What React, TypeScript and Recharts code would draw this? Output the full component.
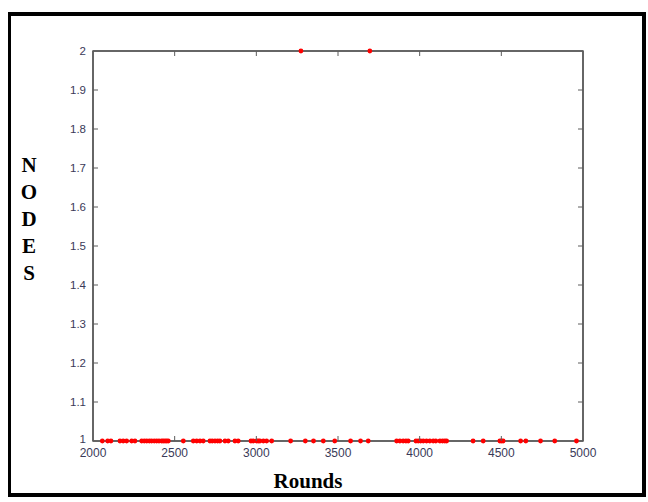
import { ScatterChart, Scatter, XAxis, YAxis, ReferenceArea } from "recharts";

// Rounds at which the node count was 1 / 2
const ROUNDS_ONE = [
  2057, 2090, 2110, 2165, 2185, 2206, 2237, 2257, 2298, 2314, 2329, 2345, 2359,
  2375, 2390, 2404, 2420, 2430, 2441, 2451, 2461, 2553, 2614, 2635, 2655, 2675,
  2716, 2730, 2747, 2763, 2777, 2808, 2828, 2869, 2889, 2967, 2981, 3002, 3012,
  3022, 3043, 3063, 3094, 3210, 3300, 3350, 3410, 3480, 3577, 3638, 3685, 3859,
  3879, 3899, 3916, 3930, 3977, 3991, 4006, 4022, 4042, 4062, 4083, 4099, 4124,
  4140, 4154, 4165, 4327, 4389, 4491, 4501, 4511, 4618, 4650, 4740, 4827, 4960,
];
const ROUNDS_TWO = [3273, 3695];

const X_TICKS = [2000, 2500, 3000, 3500, 4000, 4500, 5000];
const Y_TICKS = [1, 1.1, 1.2, 1.3, 1.4, 1.5, 1.6, 1.7, 1.8, 1.9, 2];
const Y_LETTERS = ["N", "O", "D", "E", "S"];

const points = [
  ...ROUNDS_ONE.map((r) => ({ round: r, nodes: 1 })),
  ...ROUNDS_TWO.map((r) => ({ round: r, nodes: 2 })),
];

const AXIS_COLOR = "#5c5c5c";
const LABEL_COLOR = "#3a3a58";
const TICK_LEN = 5;
const GAP = 7;

const Dot = (p: any) => <circle cx={p.cx} cy={p.cy} r={2.4} fill="#ff0000" />;
const NoDot = () => <g />;

// ticks drawn pointing into the plot, MATLAB style
const BottomTick = (p: any) => {
  const { x, y, payload } = p;
  const edge = payload.value === X_TICKS[0] || payload.value === X_TICKS[X_TICKS.length - 1];
  return (
    <g>
      {!edge && <line x1={x} x2={x} y1={y - GAP} y2={y - GAP - TICK_LEN} stroke={AXIS_COLOR} />}
      <text x={x} y={y} dy="0.71em" textAnchor="middle" fontSize={12} fill={LABEL_COLOR}
        fontFamily="Liberation Sans, Arial, sans-serif">
        {payload.value}
      </text>
    </g>
  );
};

const LeftTick = (p: any) => {
  const { x, y, payload } = p;
  const edge = payload.value === Y_TICKS[0] || payload.value === Y_TICKS[Y_TICKS.length - 1];
  return (
    <g>
      {!edge && <line x1={x + GAP} x2={x + GAP + TICK_LEN} y1={y} y2={y} stroke={AXIS_COLOR} />}
      <text x={x} y={y} dy={payload.value === 1 ? "0.15em" : "0.35em"} textAnchor="end" fontSize={11.5} fill={LABEL_COLOR}
        fontFamily="Liberation Sans, Arial, sans-serif">
        {payload.value}
      </text>
    </g>
  );
};

const TopTick = (p: any) => {
  const { x, y, payload } = p;
  if (payload.value === X_TICKS[0] || payload.value === X_TICKS[X_TICKS.length - 1]) return <g />;
  return <line x1={x} x2={x} y1={y + GAP} y2={y + GAP + TICK_LEN} stroke={AXIS_COLOR} />;
};

const RightTick = (p: any) => {
  const { x, y, payload } = p;
  if (payload.value === Y_TICKS[0] || payload.value === Y_TICKS[Y_TICKS.length - 1]) return <g />;
  return <line x1={x - GAP} x2={x - GAP - TICK_LEN} y1={y} y2={y} stroke={AXIS_COLOR} />;
};

export default function App() {
  return (
    <div style={{ position: "absolute", left: 0, top: 0, width: 648, height: 502, background: "#fff" }}>
      <div
        style={{
          position: "absolute",
          left: 8,
          top: 12,
          width: 638,
          height: 485,
          boxSizing: "border-box",
          borderTop: "4px solid #000",
          borderLeft: "3px solid #000",
          borderRight: "4px solid #000",
          borderBottom: "4px solid #000",
        }}
      />
      <div style={{ position: "absolute", left: 0, top: 0 }}>
        <ScatterChart width={648} height={502} margin={{ top: 50, right: 64, bottom: 31, left: 43 }}>
          <XAxis
            xAxisId="b"
            dataKey="round"
            type="number"
            domain={[2000, 5000]}
            ticks={X_TICKS}
            height={30}
            tickSize={0}
            tickMargin={GAP}
            tick={<BottomTick />}
            axisLine={{ stroke: AXIS_COLOR, strokeWidth: 1.5 }}
            tickLine={false}
            interval={0}
          />
          <XAxis
            xAxisId="t"
            orientation="top"
            dataKey="round"
            type="number"
            domain={[2000, 5000]}
            ticks={X_TICKS}
            height={1}
            tickSize={0}
            tickMargin={GAP}
            tick={<TopTick />}
            axisLine={{ stroke: AXIS_COLOR, strokeWidth: 1.5 }}
            tickLine={false}
            interval={0}
          />
          <YAxis
            yAxisId="l"
            dataKey="nodes"
            type="number"
            domain={[1, 2]}
            ticks={Y_TICKS}
            width={50}
            tickSize={0}
            tickMargin={GAP}
            tick={<LeftTick />}
            axisLine={{ stroke: AXIS_COLOR, strokeWidth: 1.5 }}
            tickLine={false}
            interval={0}
          />
          <YAxis
            yAxisId="r"
            orientation="right"
            dataKey="nodes"
            type="number"
            domain={[1, 2]}
            ticks={Y_TICKS}
            width={1}
            tickSize={0}
            tickMargin={GAP}
            tick={<RightTick />}
            axisLine={{ stroke: AXIS_COLOR, strokeWidth: 1.5 }}
            tickLine={false}
            interval={0}
          />
          <ReferenceArea
            xAxisId="b"
            yAxisId="l"
            x1={X_TICKS[0]}
            x2={X_TICKS[X_TICKS.length - 1]}
            y1={Y_TICKS[0]}
            y2={Y_TICKS[Y_TICKS.length - 1]}
            fill="none"
            fillOpacity={0}
            stroke={AXIS_COLOR}
            strokeWidth={1.5}
          />
          {/* invisible copy so the top/right frame axes get drawn */}
          <Scatter
            data={points}
            xAxisId="t"
            yAxisId="r"
            shape={<NoDot />}
            isAnimationActive={false}
          />
          <Scatter
            data={points}
            xAxisId="b"
            yAxisId="l"
            shape={<Dot />}
            isAnimationActive={false}
          />
        </ScatterChart>
      </div>
      <div
        style={{
          position: "absolute",
          left: 18,
          top: 152,
          width: 22,
          textAlign: "center",
          fontFamily: "Liberation Serif, Times New Roman, serif",
          fontWeight: "bold",
          fontSize: 21,
          lineHeight: "27px",
          color: "#000",
        }}
      >
        {Y_LETTERS.map((l) => (
          <div key={l}>{l}</div>
        ))}
      </div>
      <div
        style={{
          position: "absolute",
          left: 258,
          top: 469,
          width: 100,
          textAlign: "center",
          fontFamily: "Liberation Serif, Times New Roman, serif",
          fontWeight: "bold",
          fontSize: 21,
          color: "#000",
        }}
      >
        Rounds
      </div>
    </div>
  );
}
